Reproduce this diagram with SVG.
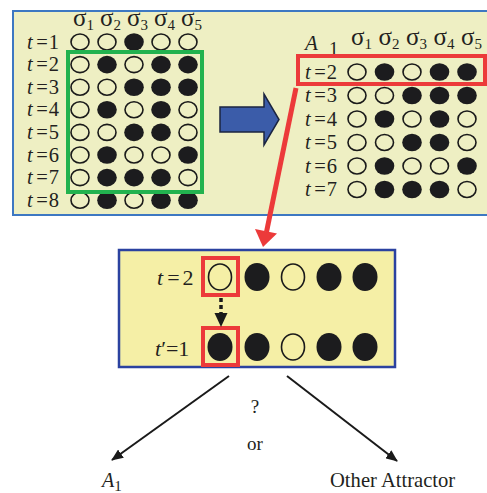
<svg xmlns="http://www.w3.org/2000/svg" width="487" height="493" viewBox="0 0 487 493">
  <style>
    text { font-family: "Liberation Serif", "Times New Roman", serif; fill: #231f20; }
    .lbl { font-size: 20.5px; }
    .sig { font-size: 25px; }
    .sub { font-size: 15px; }
    .it { font-style: italic; }
    .o { fill: none; stroke: #1a1a1a; stroke-width: 1.6; }
    .f { fill: #1c1c1e; }
    .red { fill: none; stroke: #ec3a3a; stroke-width: 4; }
  </style>
  <defs>
    <marker id="head" viewBox="0 0 12 10" refX="11" refY="5" markerWidth="12" markerHeight="10" markerUnits="userSpaceOnUse" orient="auto">
      <path d="M0,0 L12,5 L0,10 Z" fill="#1a1a1a"/>
    </marker>
  </defs>

  <!-- upper background panel -->
  <rect x="13" y="11" width="490" height="204" fill="#eeefc3" stroke="#3d78c2" stroke-width="2"/>

  <!-- state sequence t = 1 .. 8 -->
  <g id="sequence">
    <g class="sig">
      <text x="73" y="26">σ<tspan class="sub" dy="4">1</tspan></text>
      <text x="100" y="26">σ<tspan class="sub" dy="4">2</tspan></text>
      <text x="127" y="26">σ<tspan class="sub" dy="4">3</tspan></text>
      <text x="154" y="26">σ<tspan class="sub" dy="4">4</tspan></text>
      <text x="181" y="26">σ<tspan class="sub" dy="4">5</tspan></text>
    </g>
    <g class="lbl">
      <text x="27" y="48.5"><tspan class="it">t</tspan><tspan dx="3.5">=</tspan><tspan dx="1">1</tspan></text>
      <text x="27" y="71"><tspan class="it">t</tspan><tspan dx="3.5">=</tspan><tspan dx="1">2</tspan></text>
      <text x="27" y="93.5"><tspan class="it">t</tspan><tspan dx="3.5">=</tspan><tspan dx="1">3</tspan></text>
      <text x="27" y="116"><tspan class="it">t</tspan><tspan dx="3.5">=</tspan><tspan dx="1">4</tspan></text>
      <text x="27" y="139"><tspan class="it">t</tspan><tspan dx="3.5">=</tspan><tspan dx="1">5</tspan></text>
      <text x="27" y="161.5"><tspan class="it">t</tspan><tspan dx="3.5">=</tspan><tspan dx="1">6</tspan></text>
      <text x="27" y="184"><tspan class="it">t</tspan><tspan dx="3.5">=</tspan><tspan dx="1">7</tspan></text>
      <text x="27" y="206.5"><tspan class="it">t</tspan><tspan dx="3.5">=</tspan><tspan dx="1">8</tspan></text>
    </g>
    <!-- t=1 -->
    <ellipse class="o" cx="80" cy="42" rx="9" ry="8"/>
    <ellipse class="o" cx="107" cy="42" rx="9" ry="8"/>
    <ellipse class="f" cx="134" cy="42" rx="9.8" ry="8.8"/>
    <ellipse class="o" cx="161" cy="42" rx="9" ry="8"/>
    <ellipse class="o" cx="188" cy="42" rx="9" ry="8"/>
    <!-- t=2 -->
    <ellipse class="o" cx="80" cy="64.6" rx="9" ry="8"/>
    <ellipse class="f" cx="107" cy="64.6" rx="9.8" ry="8.8"/>
    <ellipse class="o" cx="134" cy="64.6" rx="9" ry="8"/>
    <ellipse class="f" cx="161" cy="64.6" rx="9.8" ry="8.8"/>
    <ellipse class="f" cx="188" cy="64.6" rx="9.8" ry="8.8"/>
    <!-- t=3 -->
    <ellipse class="o" cx="80" cy="87.2" rx="9" ry="8"/>
    <ellipse class="o" cx="107" cy="87.2" rx="9" ry="8"/>
    <ellipse class="f" cx="134" cy="87.2" rx="9.8" ry="8.8"/>
    <ellipse class="f" cx="161" cy="87.2" rx="9.8" ry="8.8"/>
    <ellipse class="f" cx="188" cy="87.2" rx="9.8" ry="8.8"/>
    <!-- t=4 -->
    <ellipse class="o" cx="80" cy="109.8" rx="9" ry="8"/>
    <ellipse class="f" cx="107" cy="109.8" rx="9.8" ry="8.8"/>
    <ellipse class="o" cx="134" cy="109.8" rx="9" ry="8"/>
    <ellipse class="f" cx="161" cy="109.8" rx="9.8" ry="8.8"/>
    <ellipse class="o" cx="188" cy="109.8" rx="9" ry="8"/>
    <!-- t=5 -->
    <ellipse class="o" cx="80" cy="132.4" rx="9" ry="8"/>
    <ellipse class="o" cx="107" cy="132.4" rx="9" ry="8"/>
    <ellipse class="f" cx="134" cy="132.4" rx="9.8" ry="8.8"/>
    <ellipse class="f" cx="161" cy="132.4" rx="9.8" ry="8.8"/>
    <ellipse class="o" cx="188" cy="132.4" rx="9" ry="8"/>
    <!-- t=6 -->
    <ellipse class="o" cx="80" cy="155" rx="9" ry="8"/>
    <ellipse class="f" cx="107" cy="155" rx="9.8" ry="8.8"/>
    <ellipse class="o" cx="134" cy="155" rx="9" ry="8"/>
    <ellipse class="o" cx="161" cy="155" rx="9" ry="8"/>
    <ellipse class="f" cx="188" cy="155" rx="9.8" ry="8.8"/>
    <!-- t=7 -->
    <ellipse class="o" cx="80" cy="177.6" rx="9" ry="8"/>
    <ellipse class="f" cx="107" cy="177.6" rx="9.8" ry="8.8"/>
    <ellipse class="f" cx="134" cy="177.6" rx="9.8" ry="8.8"/>
    <ellipse class="f" cx="161" cy="177.6" rx="9.8" ry="8.8"/>
    <ellipse class="o" cx="188" cy="177.6" rx="9" ry="8"/>
    <!-- t=8 -->
    <ellipse class="o" cx="80" cy="200.2" rx="9" ry="8"/>
    <ellipse class="f" cx="107" cy="200.2" rx="9.8" ry="8.8"/>
    <ellipse class="o" cx="134" cy="200.2" rx="9" ry="8"/>
    <ellipse class="f" cx="161" cy="200.2" rx="9.8" ry="8.8"/>
    <ellipse class="f" cx="188" cy="200.2" rx="9.8" ry="8.8"/>
    <!-- cycle window t=2..7 -->
    <rect x="68" y="52" width="134" height="140" fill="none" stroke="#22b24f" stroke-width="4"/>
  </g>

  <!-- attractor A1 -->
  <g id="attractor">
    <text class="it" x="305" y="50" font-size="21">A</text>
    <text x="329" y="55" font-size="19">1</text>
    <g class="sig">
      <text x="351" y="45">σ<tspan class="sub" dy="4">1</tspan></text>
      <text x="378.5" y="45">σ<tspan class="sub" dy="4">2</tspan></text>
      <text x="406" y="45">σ<tspan class="sub" dy="4">3</tspan></text>
      <text x="433.5" y="45">σ<tspan class="sub" dy="4">4</tspan></text>
      <text x="461" y="45">σ<tspan class="sub" dy="4">5</tspan></text>
    </g>
    <g class="lbl">
      <text x="305" y="78.5"><tspan class="it">t</tspan><tspan dx="3.5">=</tspan><tspan dx="1">2</tspan></text>
      <text x="305" y="102"><tspan class="it">t</tspan><tspan dx="3.5">=</tspan><tspan dx="1">3</tspan></text>
      <text x="305" y="125.5"><tspan class="it">t</tspan><tspan dx="3.5">=</tspan><tspan dx="1">4</tspan></text>
      <text x="305" y="149"><tspan class="it">t</tspan><tspan dx="3.5">=</tspan><tspan dx="1">5</tspan></text>
      <text x="305" y="172.5"><tspan class="it">t</tspan><tspan dx="3.5">=</tspan><tspan dx="1">6</tspan></text>
      <text x="305" y="196"><tspan class="it">t</tspan><tspan dx="3.5">=</tspan><tspan dx="1">7</tspan></text>
    </g>
    <!-- t=2 -->
    <ellipse class="o" cx="357" cy="72" rx="9" ry="8"/>
    <ellipse class="f" cx="384.5" cy="72" rx="9.8" ry="8.8"/>
    <ellipse class="o" cx="412" cy="72" rx="9" ry="8"/>
    <ellipse class="f" cx="439.5" cy="72" rx="9.8" ry="8.8"/>
    <ellipse class="f" cx="467" cy="72" rx="9.8" ry="8.8"/>
    <!-- t=3 -->
    <ellipse class="o" cx="357" cy="95.5" rx="9" ry="8"/>
    <ellipse class="o" cx="384.5" cy="95.5" rx="9" ry="8"/>
    <ellipse class="f" cx="412" cy="95.5" rx="9.8" ry="8.8"/>
    <ellipse class="f" cx="439.5" cy="95.5" rx="9.8" ry="8.8"/>
    <ellipse class="f" cx="467" cy="95.5" rx="9.8" ry="8.8"/>
    <!-- t=4 -->
    <ellipse class="o" cx="357" cy="119" rx="9" ry="8"/>
    <ellipse class="f" cx="384.5" cy="119" rx="9.8" ry="8.8"/>
    <ellipse class="o" cx="412" cy="119" rx="9" ry="8"/>
    <ellipse class="f" cx="439.5" cy="119" rx="9.8" ry="8.8"/>
    <ellipse class="o" cx="467" cy="119" rx="9" ry="8"/>
    <!-- t=5 -->
    <ellipse class="o" cx="357" cy="142.5" rx="9" ry="8"/>
    <ellipse class="o" cx="384.5" cy="142.5" rx="9" ry="8"/>
    <ellipse class="f" cx="412" cy="142.5" rx="9.8" ry="8.8"/>
    <ellipse class="f" cx="439.5" cy="142.5" rx="9.8" ry="8.8"/>
    <ellipse class="o" cx="467" cy="142.5" rx="9" ry="8"/>
    <!-- t=6 -->
    <ellipse class="o" cx="357" cy="166" rx="9" ry="8"/>
    <ellipse class="f" cx="384.5" cy="166" rx="9.8" ry="8.8"/>
    <ellipse class="o" cx="412" cy="166" rx="9" ry="8"/>
    <ellipse class="o" cx="439.5" cy="166" rx="9" ry="8"/>
    <ellipse class="f" cx="467" cy="166" rx="9.8" ry="8.8"/>
    <!-- t=7 -->
    <ellipse class="o" cx="357" cy="189.5" rx="9" ry="8"/>
    <ellipse class="f" cx="384.5" cy="189.5" rx="9.8" ry="8.8"/>
    <ellipse class="f" cx="412" cy="189.5" rx="9.8" ry="8.8"/>
    <ellipse class="f" cx="439.5" cy="189.5" rx="9.8" ry="8.8"/>
    <ellipse class="o" cx="467" cy="189.5" rx="9" ry="8"/>
    <!-- selected state -->
    <rect class="red" x="298" y="56" width="187" height="28"/>
  </g>

  <!-- single spin flip -->
  <g id="flip">
    <rect x="119" y="250" width="276" height="117" fill="#f5efa6" stroke="#2b42a0" stroke-width="2.5"/>
    <text x="157" y="285" font-size="22"><tspan class="it">t</tspan><tspan dx="4">=</tspan><tspan dx="3">2</tspan></text>
    <text x="155" y="356" font-size="22"><tspan class="it">t</tspan>′=1</text>
    <ellipse class="o" cx="220" cy="277" rx="11.5" ry="13"/>
    <ellipse class="f" cx="257" cy="277" rx="12.5" ry="14"/>
    <ellipse class="o" cx="293" cy="277" rx="11.5" ry="13"/>
    <ellipse class="f" cx="329" cy="277" rx="12.5" ry="14"/>
    <ellipse class="f" cx="365" cy="277" rx="12.5" ry="14"/>
    <ellipse class="f" cx="220" cy="347" rx="12.5" ry="14"/>
    <ellipse class="f" cx="257" cy="347" rx="12.5" ry="14"/>
    <ellipse class="o" cx="293" cy="347" rx="11.5" ry="13"/>
    <ellipse class="f" cx="329" cy="347" rx="12.5" ry="14"/>
    <ellipse class="f" cx="365" cy="347" rx="12.5" ry="14"/>
    <rect class="red" x="203" y="258" width="35" height="37"/>
    <rect class="red" x="203" y="328" width="35" height="37"/>
    <line x1="221" y1="298" x2="221" y2="314" stroke="#1a1a1a" stroke-width="3.5" stroke-dasharray="4 3"/>
    <polygon points="214.5,313 227.5,313 221,327" fill="#1a1a1a"/>
  </g>

  <!-- outcome labels -->
  <g id="question">
    <text x="255" y="413" font-size="19" text-anchor="middle">?</text>
    <text x="255" y="450" font-size="19" text-anchor="middle">or</text>
  </g>
  <g id="outcome-a1">
    <text x="102" y="487" font-size="20"><tspan class="it">A</tspan><tspan class="sub" dy="4">1</tspan></text>
  </g>
  <g id="outcome-other">
    <text x="330" y="487" font-size="20.6">Other Attractor</text>
  </g>

  <g id="connectors">
    <!-- block arrow: sequence to attractor -->
    <polygon points="220,107 264,107 264,94 279,119.5 264,145 264,132 220,132" fill="#3b5ca9" stroke="#1b2540" stroke-width="1.5"/>
    <!-- red arrow: selected state to flip panel -->
    <line x1="296" y1="88" x2="266.5" y2="232" stroke="#ec3a3a" stroke-width="5"/>
    <polygon points="255,229 277,233.5 263,247" fill="#ec3a3a"/>
    <!-- branch arrows -->
    <line x1="229" y1="376" x2="112" y2="460" stroke="#1a1a1a" stroke-width="2" marker-end="url(#head)"/>
    <line x1="287" y1="376" x2="397" y2="461" stroke="#1a1a1a" stroke-width="2" marker-end="url(#head)"/>
  </g>
</svg>
